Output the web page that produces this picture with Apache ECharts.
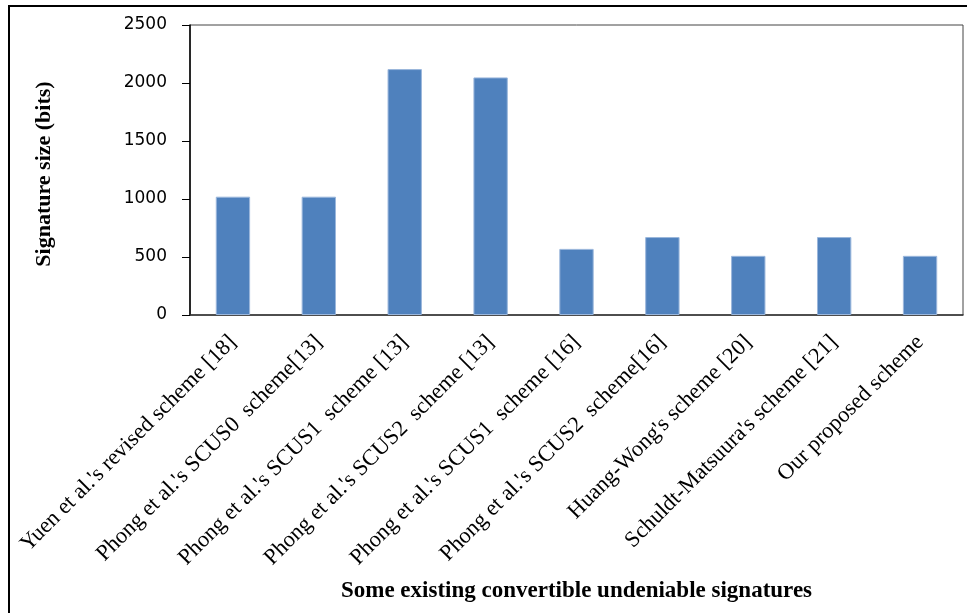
<!DOCTYPE html>
<html>
<head>
<meta charset="utf-8">
<script src="https://cdn.jsdelivr.net/npm/echarts@6/dist/echarts.min.js"></script>
<style>
  html, body { margin: 0; padding: 0; background: #fff; }
  #chart { width: 967px; height: 613px; position: relative; }
  #frame { position: absolute; left: 8px; top: 5px; right: 0; bottom: 0;
           border-left: 2px solid #000; border-top: 2px solid #000; pointer-events: none; }
</style>
</head>
<body>
<div id="chart"></div>
<div id="frame"></div>
<script>
// Schemes compared along the x axis
const schemes = [
  "Yuen et al.'s revised scheme [18]",
  "Phong et al.'s SCUS0  scheme[13]",
  "Phong et al.'s SCUS1  scheme [13]",
  "Phong et al.'s SCUS2  scheme [13]",
  "Phong et al.'s SCUS1  scheme [16]",
  "Phong et al.'s SCUS2  scheme[16]",
  "Huang-Wong's scheme [20]",
  "Schuldt-Matsuura's scheme [21]",
  "Our proposed scheme"
];
// Signature size of each scheme, in bits
const signatureBits = [1020, 1020, 2120, 2048, 570, 672, 510, 672, 510];
// Value axis range and step
const yMin = 0;
const yMax = 2500;
const yStep = 500;

const chart = echarts.init(document.getElementById('chart'), null, { renderer: 'canvas' });
chart.setOption({
  animation: false,
  grid: {
    left: 190, right: 4, top: 25, bottom: 298,
    show: true, borderColor: '#444', borderWidth: 1, backgroundColor: 'transparent'
  },
  xAxis: {
    type: 'category',
    data: schemes,
    name: 'Some existing convertible undeniable signatures',
    nameLocation: 'middle',
    nameGap: 265,
    nameTextStyle: { fontFamily: 'Liberation Serif', fontWeight: 'bold', fontSize: 23, color: '#000' },
    axisLine: { lineStyle: { color: '#333', width: 1.5 } },
    axisTick: { show: false },
    axisLabel: {
      interval: 0, rotate: 45, margin: 24,
      fontFamily: 'Liberation Serif', fontSize: 22.5, color: '#000'
    }
  },
  yAxis: {
    type: 'value',
    min: yMin, max: yMax, interval: yStep,
    name: 'Signature size (bits)',
    nameLocation: 'middle',
    nameGap: 135,
    nameRotate: 90,
    nameTextStyle: {
      fontFamily: 'Liberation Serif', fontWeight: 'bold', fontSize: 22, color: '#000',
      padding: [0, 8, 0, 0]
    },
    axisLine: { show: true, lineStyle: { color: '#000', width: 1.5 } },
    axisTick: { show: true, length: 8, lineStyle: { color: '#000' } },
    splitLine: { show: false },
    axisLabel: {
      margin: 23, fontFamily: 'DejaVu Sans', fontSize: 17, color: '#000',
      formatter: function (v) { return String(v); }
    }
  },
  series: [{
    type: 'bar',
    data: signatureBits,
    barWidth: '40%',
    itemStyle: { color: '#4F81BD', borderColor: '#9bb7dc', borderWidth: 1 }
  }]
});
</script>
</body>
</html>
